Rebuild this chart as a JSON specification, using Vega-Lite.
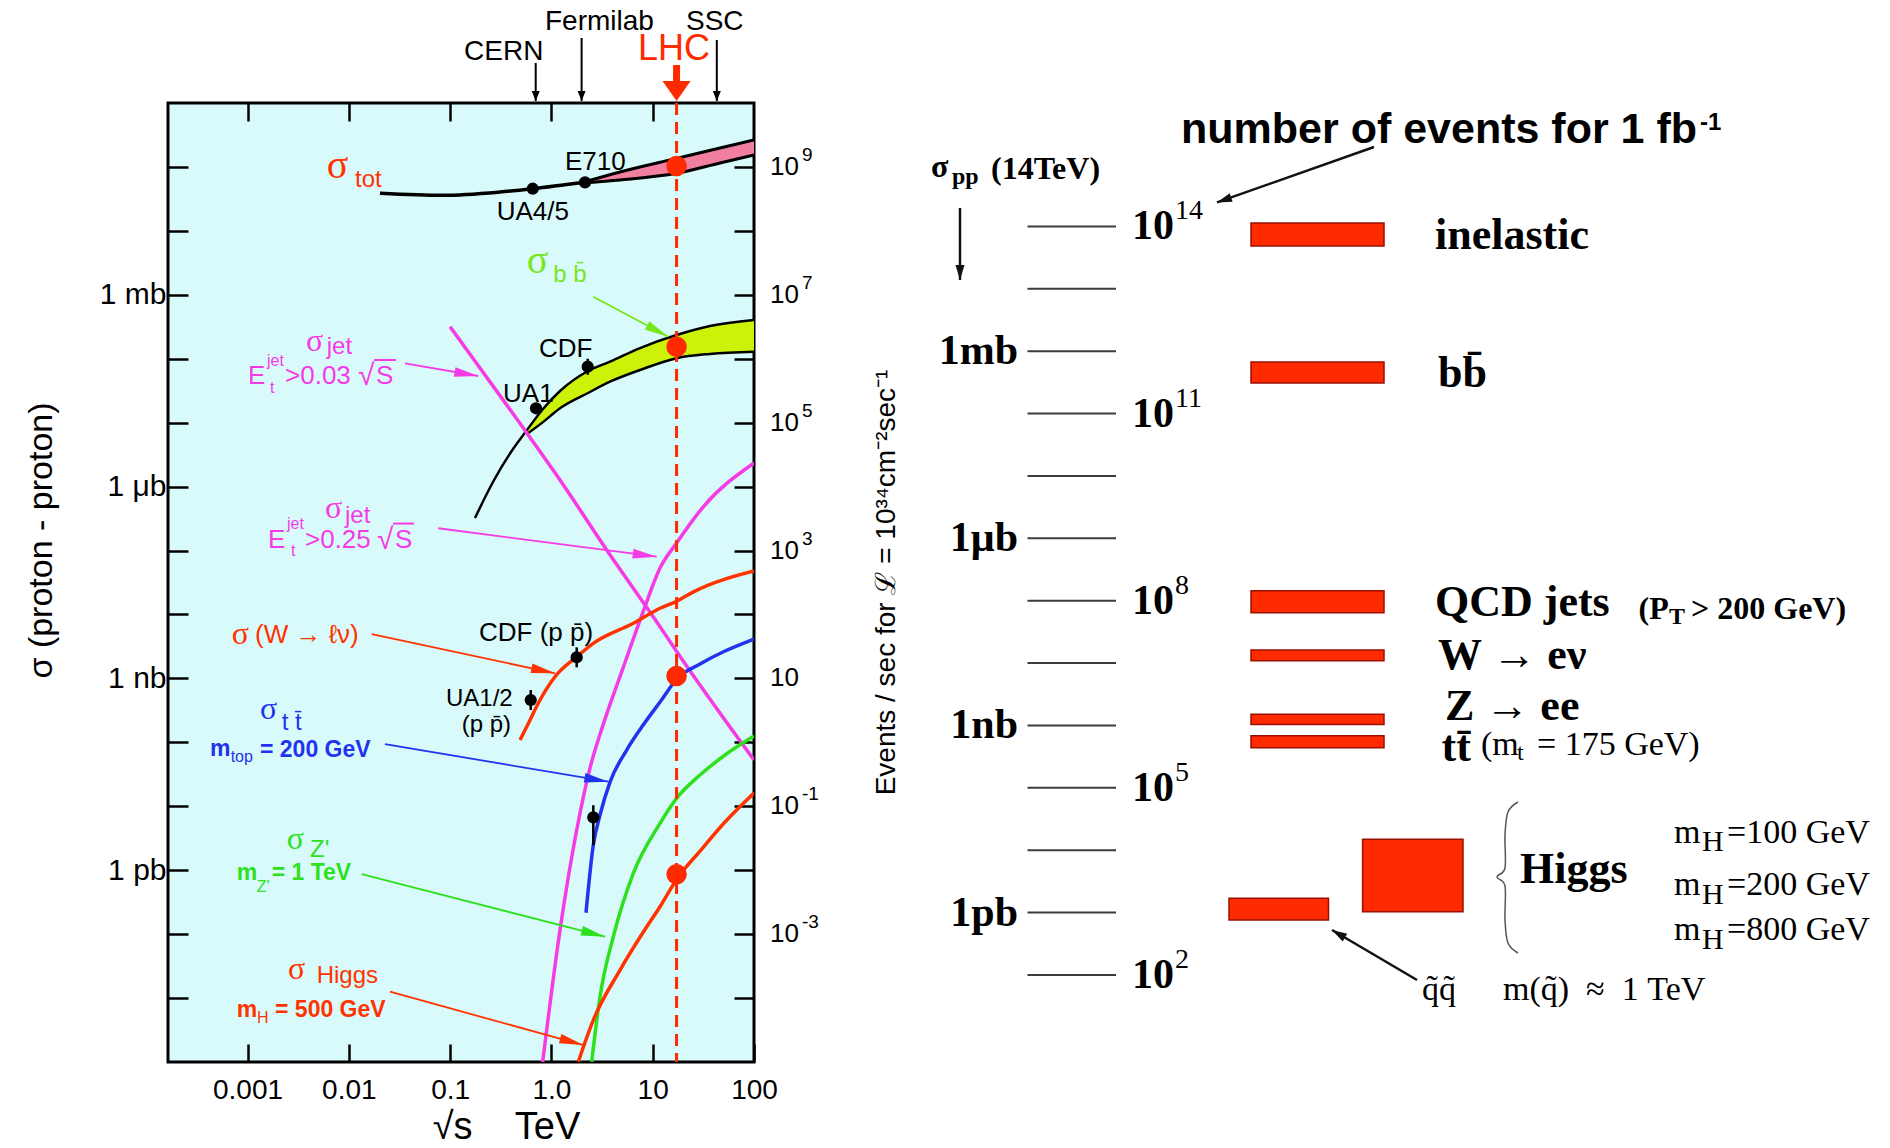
{
  "$schema": "https://vega.github.io/schema/vega-lite/v6.json",
  "width": 586,
  "height": 959,
  "autosize": {"type": "none"},
  "padding": {"left": 168, "top": 103, "right": 1136, "bottom": 86},
  "background": "#ffffff",
  "config": {
    "view": {"fill": "#d9fafa", "stroke": "#000000", "strokeWidth": 3},
    "axis": {"domain": false, "grid": false, "tickColor": "#000000", "tickWidth": 2.5, "labelColor": "#000000", "titleColor": "#000000", "labelFont": "Liberation Sans", "titleFont": "Liberation Sans", "titleFontWeight": "normal", "labelOverlap": false, "labelFlush": false}
  },
  "datasets": {
    "tot": [
      {"x": 0.0203, "y": 3.87e10}, {"x": 0.0857, "y": 3.6e10}, {"x": 0.311, "y": 4.05e10}, {"x": 0.654, "y": 4.56e10}, {"x": 2.15, "y": 5.75e10}
    ],
    "totband": [
      {"x": 2.15, "hi": 5.87e10, "lo": 5.61e10}, {"x": 4.755, "hi": 8.33e10, "lo": 6.25e10}, {"x": 17.2, "hi": 1.36e11, "lo": 7.95e10}, {"x": 46.17, "hi": 1.98e11, "lo": 1.15e11}, {"x": 100, "hi": 2.64e11, "lo": 1.54e11}
    ],
    "bb": [
      {"x": 0.176, "hi": 3.22e5}, {"x": 0.265, "hi": 1.18e6}, {"x": 0.418, "hi": 3.87e6},
      {"x": 0.574, "hi": 7.68e6, "lo": 6.65e6}, {"x": 0.826, "hi": 1.64e7, "lo": 1.02e7}, {"x": 1.216, "hi": 3.13e7, "lo": 1.68e7},
      {"x": 2.298, "hi": 6.43e7, "lo": 2.91e7}, {"x": 3.788, "hi": 8.98e7, "lo": 4.37e7}, {"x": 7.493, "hi": 1.47e8, "lo": 6.66e7},
      {"x": 17.2, "hi": 2.35e8, "lo": 1.02e8}, {"x": 36.78, "hi": 3.25e8, "lo": 1.19e8}, {"x": 100, "hi": 4.03e8, "lo": 1.29e8}
    ],
    "curves": [
      {"series": "jet03", "x": 0.1, "y": 3.17e8}, {"series": "jet03", "x": 0.471, "y": 1.06e7}, {"series": "jet03", "x": 1.216, "y": 1.27e6},
      {"series": "jet03", "x": 3.515, "y": 1.02e5}, {"series": "jet03", "x": 11.81, "y": 6430}, {"series": "jet03", "x": 17.38, "y": 2580}, {"series": "jet03", "x": 100, "y": 52.9},
      {"series": "jet25", "x": 0.82, "y": 0.001}, {"series": "jet25", "x": 1.216, "y": 0.116}, {"series": "jet25", "x": 1.777, "y": 4.25},
      {"series": "jet25", "x": 2.404, "y": 39.6}, {"series": "jet25", "x": 3.232, "y": 186}, {"series": "jet25", "x": 5.09, "y": 1450},
      {"series": "jet25", "x": 8.02, "y": 10900}, {"series": "jet25", "x": 11.81, "y": 53300}, {"series": "jet25", "x": 17.2, "y": 131000},
      {"series": "jet25", "x": 31.4, "y": 479000}, {"series": "jet25", "x": 100, "y": 2.34e6},
      {"series": "W", "x": 0.49, "y": 109}, {"series": "W", "x": 0.57, "y": 175}, {"series": "W", "x": 0.772, "y": 459},
      {"series": "W", "x": 1.085, "y": 1060}, {"series": "W", "x": 1.777, "y": 2180}, {"series": "W", "x": 2.592, "y": 3540},
      {"series": "W", "x": 6.434, "y": 7270}, {"series": "W", "x": 11.81, "y": 12500}, {"series": "W", "x": 17.38, "y": 16200},
      {"series": "W", "x": 25.0, "y": 22400}, {"series": "W", "x": 100, "y": 47800},
      {"series": "tt", "x": 2.196, "y": 0.216}, {"series": "tt", "x": 2.592, "y": 2.47}, {"series": "tt", "x": 3.018, "y": 7.29},
      {"series": "tt", "x": 3.788, "y": 23.9}, {"series": "tt", "x": 5.537, "y": 75.8}, {"series": "tt", "x": 7.787, "y": 173},
      {"series": "tt", "x": 11.81, "y": 427}, {"series": "tt", "x": 17.58, "y": 1010}, {"series": "tt", "x": 29.31, "y": 1680},
      {"series": "tt", "x": 51.72, "y": 2680}, {"series": "tt", "x": 100, "y": 4130},
      {"series": "Zp", "x": 2.499, "y": 0.00101}, {"series": "Zp", "x": 3.018, "y": 0.0105}, {"series": "Zp", "x": 4.083, "y": 0.0911},
      {"series": "Zp", "x": 6.434, "y": 0.893}, {"series": "Zp", "x": 11.81, "y": 5.41}, {"series": "Zp", "x": 17.58, "y": 13.9},
      {"series": "Zp", "x": 29.31, "y": 30.8}, {"series": "Zp", "x": 51.72, "y": 63.3}, {"series": "Zp", "x": 100, "y": 125.5},
      {"series": "H", "x": 1.843, "y": 0.00101}, {"series": "H", "x": 2.592, "y": 0.00453}, {"series": "H", "x": 4.755, "y": 0.0274},
      {"series": "H", "x": 8.727, "y": 0.1305}, {"series": "H", "x": 11.81, "y": 0.268}, {"series": "H", "x": 17.58, "y": 0.754},
      {"series": "H", "x": 29.31, "y": 1.99}, {"series": "H", "x": 51.72, "y": 5.67}, {"series": "H", "x": 100, "y": 16.1}
    ],
    "pts": [
      {"name": "UA4/5", "x": 0.654, "y": 4.56e10},
      {"name": "E710", "x": 2.147, "y": 5.75e10},
      {"name": "UA1", "x": 0.705, "y": 1.68e7},
      {"name": "CDF b", "x": 2.282, "y": 7.5e7, "lo": 5.62e7, "hi": 1.0e8},
      {"name": "CDF W", "x": 1.777, "y": 2140, "lo": 1490, "hi": 3060},
      {"name": "UA1/2 W", "x": 0.625, "y": 459, "lo": 320, "hi": 658},
      {"name": "CDF top", "x": 2.592, "y": 6.71, "lo": 2.47, "hi": 10.4}
    ],
    "lhc": [
      {"x": 17.2, "y": 1.03e11}, {"x": 17.2, "y": 1.54e8}, {"x": 17.2, "y": 1090}, {"x": 17.2, "y": 0.862}
    ],
    "lhcline": [{"x": 17.2, "top": 1e12, "bot": 0.001}],
    "evlab": [
      {"y": 1e11, "e": "9"}, {"y": 1e9, "e": "7"}, {"y": 1e7, "e": "5"}, {"y": 1e5, "e": "3"}, {"y": 1000, "e": ""}, {"y": 10, "e": "-1"}, {"y": 0.1, "e": "-3"}
    ],
    "arrows": [
      {"series": "bb", "x": 2.592, "y": 9.34e8, "x2": 14.26, "y2": 2.21e8},
      {"series": "jet", "x": 0.0359, "y": 8.48e7, "x2": 0.19, "y2": 5.37e7},
      {"series": "jet", "x": 0.07646, "y": 2.23e5, "x2": 10.95, "y2": 8.0e4},
      {"series": "W", "x": 0.01683, "y": 4940, "x2": 1.085, "y2": 1200},
      {"series": "tt", "x": 0.02277, "y": 94.1, "x2": 3.645, "y2": 24.2},
      {"series": "Zp", "x": 0.01341, "y": 0.871, "x2": 3.382, "y2": 0.0911},
      {"series": "H", "x": 0.02551, "y": 0.01256, "x2": 2.065, "y2": 0.00184},
      {"series": "data", "x": 0.7, "y": 4.22e12, "x2": 0.7, "y2": 1.075e12},
      {"series": "data", "x": 1.987, "y": 1.04e13, "x2": 1.987, "y2": 1.075e12},
      {"series": "data", "x": 42.94, "y": 9.67e12, "x2": 42.94, "y2": 1.075e12},
      {"series": "LHC", "x": 17.2, "y": 3.93e12, "x2": 17.2, "y2": 1.075e12}
    ],
    "overlines": [
      {"series": "jet", "x": 0.01773, "y": 9.55e7, "x2": 0.02924, "y2": 9.55e7},
      {"series": "jet", "x": 0.02731, "y": 2.64e5, "x2": 0.04401, "y2": 2.64e5}
    ],
    "labels": [
      {"series": "data", "part": "top", "t": "CERN", "x": 0.1372, "y": 6.35e12},
      {"series": "data", "part": "top", "t": "Fermilab", "x": 0.8647, "y": 1.85e13},
      {"series": "data", "part": "top", "t": "SSC", "x": 21.32, "y": 1.85e13},
      {"series": "LHC", "part": "lhc", "t": "LHC", "x": 7.16, "y": 7.0e12},
      {"series": "tot", "part": "big", "t": "\u03c3", "x": 0.00605, "y": 1.05e11},
      {"series": "bb", "part": "big", "t": "\u03c3", "x": 0.5704, "y": 3.43e9},
      {"series": "tot", "part": "sub", "t": "tot", "x": 0.01151, "y": 6.29e10},
      {"series": "bb", "part": "sub", "t": "b b\u0304", "x": 1.044, "y": 2.05e9},
      {"series": "jet", "part": "sub", "t": "jet", "x": 0.00605, "y": 1.54e8},
      {"series": "jet", "part": "sub", "t": "jet", "x": 0.00917, "y": 3.49e5},
      {"series": "tt", "part": "sub", "t": "t t\u0304", "x": 0.002176, "y": 202},
      {"series": "Zp", "part": "sub", "t": "Z'", "x": 0.00414, "y": 2.08},
      {"series": "H", "part": "sub", "t": "Higgs", "x": 0.00482, "y": 0.02227},
      {"series": "jet", "part": "sym", "t": "\u03c3", "x": 0.00378, "y": 1.89e8},
      {"series": "jet", "part": "sym", "t": "\u03c3", "x": 0.00582, "y": 4.62e5},
      {"series": "W", "part": "sym", "t": "\u03c3", "x": 0.000698, "y": 4940},
      {"series": "tt", "part": "sym", "t": "\u03c3", "x": 0.001328, "y": 332},
      {"series": "Zp", "part": "sym", "t": "\u03c3", "x": 0.002438, "y": 3.1},
      {"series": "H", "part": "sym", "t": "\u03c3", "x": 0.00251, "y": 0.02844},
      {"series": "data", "part": "lab", "t": "E710", "x": 1.362, "y": 1.186e11},
      {"series": "data", "part": "lab", "t": "UA4/5", "x": 0.2884, "y": 1.96e10},
      {"series": "data", "part": "lab", "t": "CDF", "x": 0.7543, "y": 1.41e8},
      {"series": "data", "part": "lab", "t": "UA1", "x": 0.3329, "y": 2.79e7},
      {"series": "data", "part": "lab", "t": "CDF (p p\u0304)", "x": 0.1929, "y": 5120},
      {"series": "data", "part": "lab2", "t": "UA1/2", "x": 0.0911, "y": 470},
      {"series": "data", "part": "lab2", "t": "(p p\u0304)", "x": 0.1301, "y": 190},
      {"series": "W", "part": "lab", "t": "(W \u2192 \u2113\u03bd)", "x": 0.001186, "y": 4740},
      {"series": "jet", "part": "lab", "t": "E", "x": 0.001011, "y": 5.4e7},
      {"series": "jet", "part": "lab", "t": ">0.03", "x": 0.002346, "y": 5.4e7},
      {"series": "jet", "part": "lab", "t": "E", "x": 0.001594, "y": 1.47e5},
      {"series": "jet", "part": "lab", "t": ">0.25", "x": 0.003695, "y": 1.47e5},
      {"series": "jet", "part": "lab", "t": "S", "x": 0.01856, "y": 5.4e7},
      {"series": "jet", "part": "lab", "t": "S", "x": 0.02858, "y": 1.47e5},
      {"series": "jet", "part": "root", "t": "\u221a", "x": 0.01232, "y": 5.4e7},
      {"series": "jet", "part": "root", "t": "\u221a", "x": 0.01898, "y": 1.47e5},
      {"series": "tt", "part": "note", "t": "m", "x": 0.0004264, "y": 78.6},
      {"series": "tt", "part": "note", "t": "= 200 GeV", "x": 0.001328, "y": 76.3},
      {"series": "Zp", "part": "note", "t": "m", "x": 0.000782, "y": 0.909},
      {"series": "Zp", "part": "note", "t": "= 1 TeV", "x": 0.001734, "y": 0.909},
      {"series": "H", "part": "note", "t": "m", "x": 0.000782, "y": 0.00654},
      {"series": "H", "part": "note", "t": "= 500 GeV", "x": 0.001869, "y": 0.00654},
      {"series": "jet", "part": "tiny", "t": "jet", "x": 0.001558, "y": 9.21e7},
      {"series": "jet", "part": "tiny", "t": "t", "x": 0.001668, "y": 3.48e7},
      {"series": "jet", "part": "tiny", "t": "jet", "x": 0.002455, "y": 2.6e5},
      {"series": "jet", "part": "tiny", "t": "t", "x": 0.002688, "y": 9.82e4},
      {"series": "tt", "part": "tiny", "t": "top", "x": 0.000682, "y": 58.9},
      {"series": "Zp", "part": "tiny", "t": "Z'", "x": 0.001232, "y": 0.545},
      {"series": "H", "part": "tiny", "t": "H", "x": 0.001241, "y": 0.00487}
    ],
    "rticks": [
      {"s": 1e11}, {"s": 1e10}, {"s": 1e9}, {"s": 1e8}, {"s": 1e7}, {"s": 1e6}, {"s": 1e5}, {"s": 1e4}, {"s": 1000}, {"s": 100}, {"s": 10}, {"s": 1}, {"s": 0.1}
    ],
    "rleft": [
      {"t": "1mb", "s": 1e9}, {"t": "1\u03bcb", "s": 1e6}, {"t": "1nb", "s": 1000}, {"t": "1pb", "s": 1}
    ],
    "rright": [
      {"e": "14", "s": 1e11}, {"e": "11", "s": 1e8}, {"e": "8", "s": 1e5}, {"e": "5", "s": 100}, {"e": "2", "s": 0.1}
    ],
    "procs": [
      {"name": "inelastic", "col": 108.3, "col2": 121.6, "s": 1.14e11, "s2": 4.86e10},
      {"name": "bb", "col": 108.3, "col2": 121.6, "s": 6.71e8, "s2": 3.1e8},
      {"name": "QCD jets", "col": 108.3, "col2": 121.6, "s": 1.45e5, "s2": 6.43e4},
      {"name": "W", "col": 108.3, "col2": 121.6, "s": 1.62e4, "s2": 1.09e4},
      {"name": "Z", "col": 108.3, "col2": 121.6, "s": 1510, "s2": 1040},
      {"name": "tt", "col": 108.3, "col2": 121.6, "s": 685, "s2": 440},
      {"name": "Higgs", "col": 119.46, "col2": 129.5, "s": 15.0, "s2": 1.03},
      {"name": "squark", "col": 106.1, "col2": 116.05, "s": 1.69, "s2": 0.76}
    ],
    "rtext": [
      {"part": "desc", "t": "inelastic", "col": 126.7, "s": 6.99e10},
      {"part": "desc", "t": "bb\u0304", "col": 127.0, "s": 4.29e8},
      {"part": "desc", "t": "QCD jets", "col": 126.7, "s": 9.12e4},
      {"part": "desc", "t": "W \u2192 e\u03bd", "col": 127.0, "s": 1.29e4},
      {"part": "desc", "t": "Z \u2192 ee", "col": 127.7, "s": 1950},
      {"part": "desc", "t": "tt\u0304", "col": 127.35, "s": 440},
      {"part": "desc", "t": "Higgs", "col": 135.2, "s": 4.78},
      {"part": "midb", "t": "(P", "col": 147.06, "s": 7.26e4},
      {"part": "midb", "t": "> 200 GeV)", "col": 152.3, "s": 7.26e4},
      {"part": "mid", "t": "(m", "col": 131.3, "s": 478},
      {"part": "mid", "t": "= 175 GeV)", "col": 136.9, "s": 478},
      {"part": "mid", "t": "m", "col": 150.6, "s": 19.0},
      {"part": "mid", "t": "=100 GeV", "col": 155.9, "s": 19.0},
      {"part": "mid", "t": "m", "col": 150.6, "s": 2.79},
      {"part": "mid", "t": "=200 GeV", "col": 155.9, "s": 2.79},
      {"part": "mid", "t": "m", "col": 150.6, "s": 0.53},
      {"part": "mid", "t": "=800 GeV", "col": 155.9, "s": 0.53},
      {"part": "mid", "t": "q\u0303q\u0303", "col": 125.4, "s": 0.0578},
      {"part": "mid", "t": "m(q\u0303)\u00a0\u00a0\u2248\u00a0\u00a01\u00a0TeV", "col": 133.5, "s": 0.0578},
      {"part": "midb", "t": "\u03c3", "col": 76.3, "s": 9.06e11},
      {"part": "midb", "t": "(14TeV)", "col": 82.3, "s": 8.47e11},
      {"part": "subb", "t": "T", "col": 150.1, "s": 5.4e4},
      {"part": "sub", "t": "t", "col": 134.9, "s": 356},
      {"part": "subb", "t": "pp", "col": 78.4, "s": 6.31e11},
      {"part": "hsub", "t": "H", "col": 153.4, "s": 13.6},
      {"part": "hsub", "t": "H", "col": 153.4, "s": 1.93},
      {"part": "hsub", "t": "H", "col": 153.4, "s": 0.366},
      {"part": "ttl", "t": "number of events for 1 fb", "col": 101.3, "s": 3.52e12},
      {"part": "ttlsup", "t": "-1", "col": 153.2, "s": 4.6e12}
    ],
    "brace": [
      {"k": 1, "col": 135.0, "s": 59.3}, {"k": 2, "col": 134.0, "s": 41.0}, {"k": 3, "col": 133.7, "s": 17.5},
      {"k": 4, "col": 133.7, "s": 5.18}, {"k": 5, "col": 132.9, "s": 3.72}, {"k": 6, "col": 133.7, "s": 2.67},
      {"k": 7, "col": 133.7, "s": 0.76}, {"k": 8, "col": 134.0, "s": 0.325}, {"k": 9, "col": 135.0, "s": 0.2247}
    ],
    "rarrows": [
      {"col": 120.6, "s": 1.88e12, "col2": 104.9, "s2": 2.43e11},
      {"col": 79.2, "s": 1.98e11, "col2": 79.2, "s2": 1.39e10},
      {"col": 124.9, "s": 0.083, "col2": 116.4, "s2": 0.525}
    ]
  },
  "layer": [
    {
      "encoding": {
        "x": {
          "field": "x", "type": "quantitative",
          "scale": {"type": "log", "domain": [0.0001641, 100], "nice": false},
          "axis": {
            "orient": "bottom", "values": [0.001, 0.01, 0.1, 1, 10, 100],
            "labelExpr": "datum.value < 0.005 ? '0.001' : datum.value < 0.05 ? '0.01' : datum.value < 0.5 ? '0.1' : datum.value < 5 ? '1.0' : datum.value < 50 ? '10' : '100'",
            "tickSize": -18, "labelPadding": 32, "labelFontSize": 28,
            "title": "\u221as\u00a0\u00a0\u00a0\u00a0TeV", "titleFontSize": 38, "titleX": 338, "titleY": 65, "titleBaseline": "middle", "titleAlign": "center"
          }
        },
        "y": {
          "field": "y", "type": "quantitative",
          "scale": {"type": "log", "domain": [0.001, 1e12], "nice": false},
          "axis": {
            "orient": "left", "values": [0.01, 0.1, 1, 10, 100, 1000, 1e4, 1e5, 1e6, 1e7, 1e8, 1e9, 1e10, 1e11],
            "labelExpr": "datum.value > 5e8 && datum.value < 5e9 ? '1 mb' : datum.value > 5e5 && datum.value < 5e6 ? '1 \u03bcb' : datum.value > 500 && datum.value < 5000 ? '1 nb' : datum.value > 0.5 && datum.value < 5 ? '1 pb' : ''",
            "tickSize": -20, "labelPadding": 22, "labelFontSize": 30,
            "title": "\u03c3 (proton - proton)", "titleFontSize": 34, "titleX": -127, "titleY": 437, "titleAngle": 270, "titleBaseline": "middle", "titleAlign": "center"
          }
        }
      },
      "layer": [
        {"data": {"name": "totband"}, "transform": [{"calculate": "datum.hi", "as": "y"}, {"calculate": "datum.lo", "as": "y2"}],
         "mark": {"type": "area", "color": "#f07fa0", "clip": true, "interpolate": "monotone"}, "encoding": {"y2": {"field": "y2"}}},
        {"data": {"name": "bb"}, "transform": [{"filter": "isValid(datum.lo)"}, {"calculate": "datum.hi", "as": "y"}, {"calculate": "datum.lo", "as": "y2"}],
         "mark": {"type": "area", "color": "#cdf20a", "clip": true, "interpolate": "monotone"}, "encoding": {"y2": {"field": "y2"}}},
        {"data": {"name": "totband"}, "transform": [{"fold": ["hi", "lo"], "as": ["edge", "y"]}],
         "mark": {"type": "line", "color": "#000000", "strokeWidth": 3, "clip": true, "interpolate": "monotone"}, "encoding": {"detail": {"field": "edge", "type": "nominal"}}},
        {"data": {"name": "bb"}, "transform": [{"fold": ["hi", "lo"], "as": ["edge", "y"]}, {"filter": "isValid(datum.y)"}],
         "mark": {"type": "line", "color": "#000000", "strokeWidth": 2.5, "clip": true, "interpolate": "monotone"}, "encoding": {"detail": {"field": "edge", "type": "nominal"}}},
        {"data": {"name": "tot"}, "mark": {"type": "line", "color": "#000000", "strokeWidth": 3.5, "clip": true, "interpolate": "monotone"}},
        {"data": {"name": "curves"}, "mark": {"type": "line", "strokeWidth": 3.5, "clip": true, "interpolate": "monotone"},
         "encoding": {"color": {"field": "series", "type": "nominal", "scale": {"domain": ["data", "LHC", "tot", "bb", "jet", "jet03", "jet25", "W", "tt", "Zp", "H"], "range": ["#000000", "#ff2a00", "#ff3300", "#77e61a", "#f53be6", "#f53be6", "#f53be6", "#ff3300", "#2233ee", "#2fe01f", "#ff3300"]}, "legend": null}}},
        {"data": {"name": "pts"}, "transform": [{"filter": "isValid(datum.lo)"}, {"calculate": "datum.lo", "as": "y"}, {"calculate": "datum.hi", "as": "y2"}],
         "mark": {"type": "rule", "color": "#000000", "strokeWidth": 2.5}, "encoding": {"y2": {"field": "y2"}}},
        {"data": {"name": "pts"}, "mark": {"type": "point", "filled": true, "color": "#000000", "size": 150, "opacity": 1}},
        {"data": {"name": "lhc"}, "mark": {"type": "point", "filled": true, "color": "#ff2a00", "size": 420, "opacity": 1}},
        {"data": {"name": "arrows"}, "transform": [{"filter": "datum.series != 'data' && datum.series != 'LHC'"}],
         "mark": {"type": "rule", "strokeWidth": 1.8},
         "encoding": {"x2": {"field": "x2"}, "y2": {"field": "y2"}, "color": {"field": "series", "type": "nominal", "legend": null}}},
        {"data": {"name": "arrows"}, "transform": [
            {"filter": "datum.series != 'data' && datum.series != 'LHC'"},
            {"calculate": "atan2((log(datum.x2) - log(datum.x)) / LN10 * 101.3, (log(datum.y2) - log(datum.y)) / LN10 * 63.93) * 180 / PI", "as": "ang"},
            {"calculate": "datum.x2", "as": "x"}, {"calculate": "datum.y2", "as": "y"}],
         "mark": {"type": "point", "shape": "M0,0L-0.4,2L0.4,2Z", "filled": true, "size": 576, "opacity": 1, "strokeWidth": 0},
         "encoding": {"angle": {"field": "ang", "type": "quantitative", "scale": null}, "color": {"field": "series", "type": "nominal", "legend": null}}},
        {"data": {"name": "arrows"}, "transform": [{"filter": "datum.series == 'data'"}],
         "mark": {"type": "rule", "strokeWidth": 2, "color": "#000000"}, "encoding": {"y2": {"field": "y2"}}},
        {"data": {"name": "arrows"}, "transform": [{"filter": "datum.series == 'data'"}, {"calculate": "datum.y2", "as": "y"}],
         "mark": {"type": "point", "shape": "M0,0L-0.8,2L0.8,2Z", "filled": true, "size": 100, "opacity": 1, "strokeWidth": 0, "angle": 180, "color": "#000000"}},
        {"data": {"name": "arrows"}, "transform": [{"filter": "datum.series == 'LHC'"}, {"calculate": "datum.y2 * 1.8", "as": "ys"}],
         "mark": {"type": "rule", "strokeWidth": 7, "color": "#ff2a00"}, "encoding": {"y2": {"field": "ys"}}},
        {"data": {"name": "arrows"}, "transform": [{"filter": "datum.series == 'LHC'"}, {"calculate": "datum.y2", "as": "y"}],
         "mark": {"type": "point", "shape": "M0,0L-1.4,2L1.4,2Z", "filled": true, "size": 400, "opacity": 1, "strokeWidth": 0, "angle": 180, "color": "#ff2a00"}},
        {"data": {"name": "overlines"}, "mark": {"type": "rule", "strokeWidth": 2},
         "encoding": {"x2": {"field": "x2"}, "y2": {"field": "y2"}, "color": {"field": "series", "type": "nominal", "legend": null}}},
        {"data": {"name": "evlab"}, "transform": [{"calculate": "100", "as": "x"}],
         "mark": {"type": "text", "align": "left", "baseline": "middle", "font": "Liberation Sans", "fontSize": 26, "dx": 16, "color": "#000000"},
         "encoding": {"text": {"value": "10"}}},
        {"data": {"name": "evlab"}, "transform": [{"filter": "datum.e != ''"}, {"calculate": "100", "as": "x"}],
         "mark": {"type": "text", "align": "left", "baseline": "middle", "font": "Liberation Sans", "fontSize": 19, "dx": 48, "dy": -12, "color": "#000000"},
         "encoding": {"text": {"field": "e", "type": "nominal"}}},
        {"data": {"name": "labels"}, "transform": [{"filter": "datum.part == 'top'"}],
         "mark": {"type": "text", "align": "left", "baseline": "middle", "font": "Liberation Sans", "fontSize": 28},
         "encoding": {"text": {"field": "t", "type": "nominal"}, "color": {"field": "series", "type": "nominal", "legend": null}}},
        {"data": {"name": "labels"}, "transform": [{"filter": "datum.part == 'lhc'"}],
         "mark": {"type": "text", "align": "left", "baseline": "middle", "font": "Liberation Sans", "fontSize": 36},
         "encoding": {"text": {"field": "t", "type": "nominal"}, "color": {"field": "series", "type": "nominal", "legend": null}}},
        {"data": {"name": "labels"}, "transform": [{"filter": "datum.part == 'big'"}],
         "mark": {"type": "text", "align": "left", "baseline": "middle", "font": "Liberation Serif", "fontSize": 40},
         "encoding": {"text": {"field": "t", "type": "nominal"}, "color": {"field": "series", "type": "nominal", "legend": null}}},
        {"data": {"name": "labels"}, "transform": [{"filter": "datum.part == 'sym'"}],
         "mark": {"type": "text", "align": "left", "baseline": "middle", "font": "Liberation Serif", "fontSize": 32},
         "encoding": {"text": {"field": "t", "type": "nominal"}, "color": {"field": "series", "type": "nominal", "legend": null}}},
        {"data": {"name": "labels"}, "transform": [{"filter": "datum.part == 'sub'"}],
         "mark": {"type": "text", "align": "left", "baseline": "middle", "font": "Liberation Sans", "fontSize": 24},
         "encoding": {"text": {"field": "t", "type": "nominal"}, "color": {"field": "series", "type": "nominal", "legend": null}}},
        {"data": {"name": "labels"}, "transform": [{"filter": "datum.part == 'lab'"}],
         "mark": {"type": "text", "align": "left", "baseline": "middle", "font": "Liberation Sans", "fontSize": 26},
         "encoding": {"text": {"field": "t", "type": "nominal"}, "color": {"field": "series", "type": "nominal", "legend": null}}},
        {"data": {"name": "labels"}, "transform": [{"filter": "datum.part == 'lab2'"}],
         "mark": {"type": "text", "align": "left", "baseline": "middle", "font": "Liberation Sans", "fontSize": 24},
         "encoding": {"text": {"field": "t", "type": "nominal"}, "color": {"field": "series", "type": "nominal", "legend": null}}},
        {"data": {"name": "labels"}, "transform": [{"filter": "datum.part == 'root'"}],
         "mark": {"type": "text", "align": "left", "baseline": "middle", "font": "Liberation Sans", "fontSize": 30},
         "encoding": {"text": {"field": "t", "type": "nominal"}, "color": {"field": "series", "type": "nominal", "legend": null}}},
        {"data": {"name": "labels"}, "transform": [{"filter": "datum.part == 'note'"}],
         "mark": {"type": "text", "align": "left", "baseline": "middle", "font": "Liberation Sans", "fontWeight": "bold", "fontSize": 23},
         "encoding": {"text": {"field": "t", "type": "nominal"}, "color": {"field": "series", "type": "nominal", "legend": null}}},
        {"data": {"name": "labels"}, "transform": [{"filter": "datum.part == 'tiny'"}],
         "mark": {"type": "text", "align": "left", "baseline": "middle", "font": "Liberation Sans", "fontSize": 16},
         "encoding": {"text": {"field": "t", "type": "nominal"}, "color": {"field": "series", "type": "nominal", "legend": null}}}
      ]
    },
    {
      "data": {"name": "lhcline"},
      "mark": {"type": "rule", "color": "#ff2a00", "strokeWidth": 3, "strokeDash": [12, 7]},
      "encoding": {
        "x": {
          "field": "x", "type": "quantitative",
          "scale": {"type": "log", "domain": [0.0001641, 100], "nice": false},
          "axis": {"orient": "top", "values": [0.001, 0.01, 0.1, 1, 10], "tickSize": -18, "labels": false, "title": null}
        },
        "y": {
          "field": "top", "type": "quantitative",
          "scale": {"type": "log", "domain": [0.001, 1e12], "nice": false},
          "axis": {
            "orient": "right", "values": [0.01, 0.1, 1, 10, 100, 1000, 1e4, 1e5, 1e6, 1e7, 1e8, 1e9, 1e10, 1e11],
            "tickSize": -20, "labels": false,
            "title": "Events / sec for \u2112 = 10\u00b3\u2074cm\u207b\u00b2sec\u207b\u00b9", "titleFontSize": 28, "titleX": 132, "titleY": 479, "titleAngle": 270, "titleBaseline": "middle", "titleAlign": "center"
          }
        },
        "y2": {"field": "bot"}
      }
    },
    {
      "encoding": {
        "x": {"field": "col", "type": "quantitative", "scale": {"domain": [0, 58.6], "nice": false, "zero": false}, "axis": null},
        "y": {"field": "s", "type": "quantitative", "scale": {"type": "log", "domain": [0.004018, 9.55e12], "nice": false}, "axis": null}
      },
      "layer": [
        {"data": {"name": "rticks"}, "transform": [{"calculate": "85.95", "as": "col"}, {"calculate": "94.8", "as": "col2"}],
         "mark": {"type": "rule", "color": "#3c3c3c", "strokeWidth": 2},
         "encoding": {"x2": {"field": "col2"}}},
        {"data": {"name": "rleft"}, "transform": [{"calculate": "85.0", "as": "col"}],
         "mark": {"type": "text", "align": "right", "baseline": "middle", "font": "Liberation Serif", "fontWeight": "bold", "fontSize": 42, "color": "#000000"},
         "encoding": {"text": {"field": "t", "type": "nominal"}}},
        {"data": {"name": "rright"}, "transform": [{"calculate": "96.4", "as": "col"}],
         "mark": {"type": "text", "align": "left", "baseline": "middle", "font": "Liberation Serif", "fontWeight": "bold", "fontSize": 42, "color": "#000000"},
         "encoding": {"text": {"value": "10"}}},
        {"data": {"name": "rright"}, "transform": [{"calculate": "100.7", "as": "col"}],
         "mark": {"type": "text", "align": "left", "baseline": "middle", "font": "Liberation Serif", "fontSize": 28, "dy": -15, "color": "#000000"},
         "encoding": {"text": {"field": "e", "type": "nominal"}}},
        {"data": {"name": "procs"}, "mark": {"type": "rect", "color": "#ff2a00", "stroke": "#9a1000", "strokeWidth": 1.5},
         "encoding": {"x2": {"field": "col2"}, "y2": {"field": "s2"}}},
        {"data": {"name": "rtext"}, "transform": [{"filter": "datum.part == 'desc'"}],
         "mark": {"type": "text", "align": "left", "baseline": "middle", "font": "Liberation Serif", "fontWeight": "bold", "fontSize": 44, "color": "#000000"},
         "encoding": {"text": {"field": "t", "type": "nominal"}}},
        {"data": {"name": "rtext"}, "transform": [{"filter": "datum.part == 'mid'"}],
         "mark": {"type": "text", "align": "left", "baseline": "middle", "font": "Liberation Serif", "fontSize": 34, "color": "#000000"},
         "encoding": {"text": {"field": "t", "type": "nominal"}}},
        {"data": {"name": "rtext"}, "transform": [{"filter": "datum.part == 'midb'"}],
         "mark": {"type": "text", "align": "left", "baseline": "middle", "font": "Liberation Serif", "fontWeight": "bold", "fontSize": 32, "color": "#000000"},
         "encoding": {"text": {"field": "t", "type": "nominal"}}},
        {"data": {"name": "rtext"}, "transform": [{"filter": "datum.part == 'sub'"}],
         "mark": {"type": "text", "align": "left", "baseline": "middle", "font": "Liberation Serif", "fontSize": 24, "color": "#000000"},
         "encoding": {"text": {"field": "t", "type": "nominal"}}},
        {"data": {"name": "rtext"}, "transform": [{"filter": "datum.part == 'subb'"}],
         "mark": {"type": "text", "align": "left", "baseline": "middle", "font": "Liberation Serif", "fontWeight": "bold", "fontSize": 24, "color": "#000000"},
         "encoding": {"text": {"field": "t", "type": "nominal"}}},
        {"data": {"name": "rtext"}, "transform": [{"filter": "datum.part == 'hsub'"}],
         "mark": {"type": "text", "align": "left", "baseline": "middle", "font": "Liberation Serif", "fontSize": 30, "color": "#000000"},
         "encoding": {"text": {"field": "t", "type": "nominal"}}},
        {"data": {"name": "rtext"}, "transform": [{"filter": "datum.part == 'ttl'"}],
         "mark": {"type": "text", "align": "left", "baseline": "middle", "font": "Liberation Sans", "fontWeight": "bold", "fontSize": 43, "color": "#000000"},
         "encoding": {"text": {"field": "t", "type": "nominal"}}},
        {"data": {"name": "rtext"}, "transform": [{"filter": "datum.part == 'ttlsup'"}],
         "mark": {"type": "text", "align": "left", "baseline": "middle", "font": "Liberation Sans", "fontWeight": "bold", "fontSize": 24, "color": "#000000"},
         "encoding": {"text": {"field": "t", "type": "nominal"}}},
        {"data": {"name": "brace"}, "mark": {"type": "line", "color": "#555555", "strokeWidth": 1.5, "interpolate": "cardinal"},
         "encoding": {"order": {"field": "k", "type": "quantitative"}}},
        {"data": {"name": "rarrows"}, "mark": {"type": "rule", "color": "#111111", "strokeWidth": 2.5},
         "encoding": {"x2": {"field": "col2"}, "y2": {"field": "s2"}}},
        {"data": {"name": "rarrows"}, "transform": [
            {"calculate": "atan2((datum.col2 - datum.col) * 10, (log(datum.s2) - log(datum.s)) / LN10 * 62.37) * 180 / PI", "as": "ang"},
            {"calculate": "datum.col2", "as": "col"}, {"calculate": "datum.s2", "as": "s"}],
         "mark": {"type": "point", "shape": "M0,0L-0.6,2L0.6,2Z", "filled": true, "size": 225, "opacity": 1, "strokeWidth": 0, "color": "#111111"},
         "encoding": {"angle": {"field": "ang", "type": "quantitative", "scale": null}}}
      ]
    }
  ],
  "resolve": {"scale": {"x": "independent", "y": "independent"}, "axis": {"x": "independent", "y": "independent"}}
}
